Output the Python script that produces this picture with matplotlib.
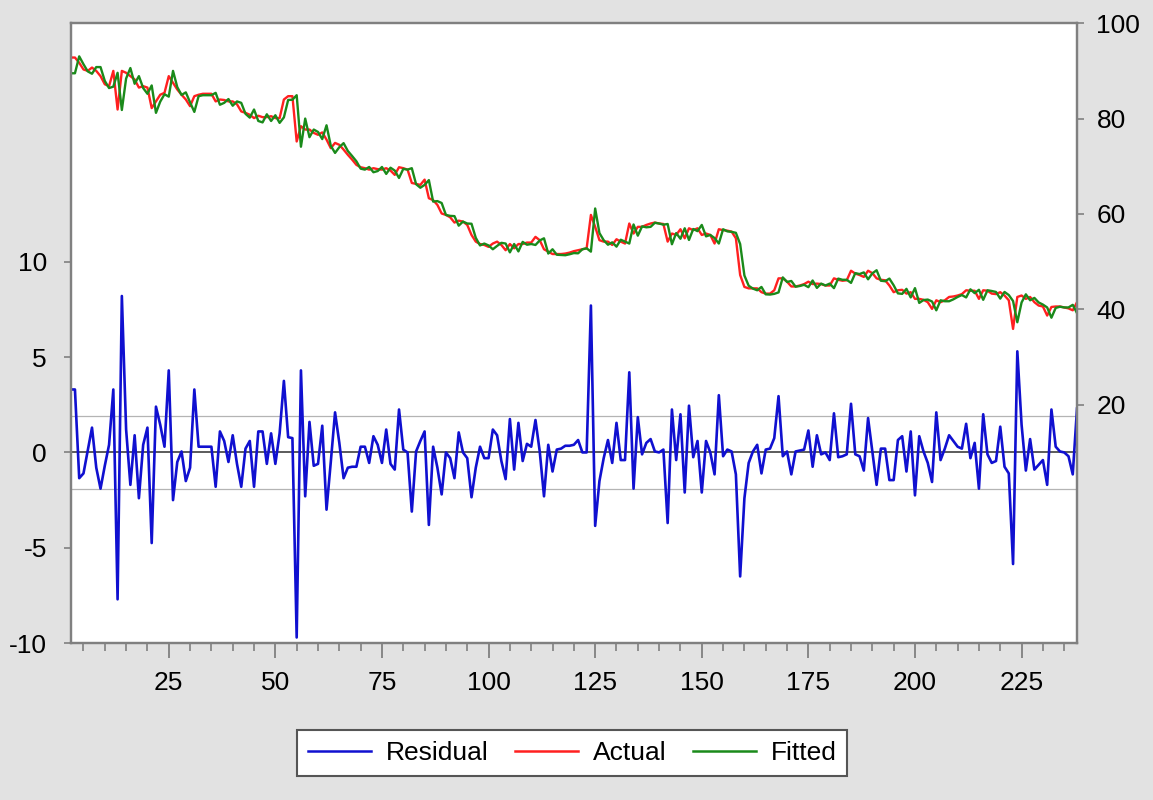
import matplotlib
matplotlib.use("Agg")
import matplotlib.pyplot as plt
import numpy as np
from matplotlib.ticker import MultipleLocator

plt.rcParams.update({
    'font.family': ['Liberation Sans', 'DejaVu Sans'],
    'font.size': 19,
    'axes.unicode_minus': False,
})

# ── Data (observations 2..238) ──────────────────────────────────────
obs = np.arange(2, 239)

residual = [
    3.3, 3.3, -1.35, -1.1, 0.1, 1.3, -0.8, -1.9, -0.7, 0.4,
    3.3, -7.7, 8.2, 1.2, -1.7, 0.9, -2.4, 0.4, 1.3, -4.75,
    2.4, 1.45, 0.3, 4.3, -2.5, -0.5, 0.05, -1.5, -0.8, 3.3,
    0.3, 0.3, 0.3, 0.3, -1.8, 1.1, 0.6, -0.5, 0.9, -0.6,
    -1.8, 0.2, 0.6, -1.8, 1.1, 1.1, -0.6, 1.0, -0.6, 1.0,
    3.75, 0.8, 0.75, -9.7, 4.3, -2.3, 1.6, -0.7, -0.6, 1.4,
    -3.0, -0.5, 2.1, 0.5, -1.35, -0.8, -0.75, -0.75, 0.3, 0.3,
    -0.55, 0.85, 0.4, -0.55, 1.2, -0.6, -0.9, 2.25, 0.15, 0.0,
    -3.1, 0.05, 0.6, 1.1, -3.8, 0.3, -0.8, -2.2, 0.0, -0.3,
    -1.35, 1.05, 0.0, -0.3, -2.35, -0.8, 0.3, -0.3, -0.3, 1.2,
    0.9, -0.45, -1.4, 1.75, -0.9, 1.55, -0.45, 0.45, 0.3, 1.7,
    0.05, -2.3, 0.4, -1.0, 0.15, 0.2, 0.35, 0.35, 0.4, 0.65,
    0.0, 0.0, 7.7, -3.85, -1.5, -0.3, 0.65, -0.55, 1.55, -0.4,
    -0.4, 4.2, -1.9, 1.85, -0.1, 0.5, 0.7, 0.05, 0.0, 0.15,
    -3.7, 2.25, -0.4, 2.0, -2.1, 2.45, -0.25, 0.6, -2.1, 0.6,
    0.0, -1.15, 3.0, -0.2, 0.15, 0.05, -1.15, -6.5, -2.4, -0.55,
    0.05, 0.4, -1.1, 0.15, 0.2, 0.75, 2.95, -0.2, 0.05, -1.15,
    0.05, 0.1, 0.15, 1.15, -0.75, 0.9, -0.1, 0.0, -0.4, 2.05,
    -0.25, -0.2, -0.1, 2.55, -0.1, -0.2, -0.95, 1.8, 0.05, -1.7,
    0.2, 0.2, -1.45, -1.45, 0.65, 0.85, -1.0, 1.1, -2.25, 0.85,
    0.05, -0.55, -1.55, 2.1, -0.4, 0.2, 0.9, 0.6, 0.3, 0.2,
    1.5, -0.3, 0.5, -1.9, 2.0, -0.1, -0.55, -0.45, 1.35, -0.75,
    -1.1, -5.85, 5.3, 1.45, -0.95, 0.7, -0.9, -0.65, -0.4, -1.7,
    2.25, 0.3, 0.05, 0.0, -0.2, -1.15, 2.3,
]

actual = [
    92.8, 92.8, 91.7, 90.3, 90.0, 90.7, 90.0, 88.9, 87.2, 86.8,
    90.0, 81.9, 90.0, 89.6, 88.9, 88.2, 86.5, 86.8, 86.5, 82.2,
    83.6, 85.0, 85.4, 88.9, 87.5, 86.1, 85.0, 84.0, 82.6, 84.7,
    85.0, 85.2, 85.2, 85.2, 83.6, 84.0, 83.9, 83.6, 83.6, 83.0,
    81.5, 81.2, 80.8, 80.1, 80.6, 80.3, 80.3, 80.5, 80.1, 80.1,
    84.0, 84.7, 84.7, 75.2, 78.4, 77.7, 77.7, 77.0, 76.6, 77.1,
    75.6, 73.8, 74.9, 74.5, 73.5, 72.4, 71.4, 70.3, 69.8, 69.6,
    69.3, 69.6, 69.4, 69.3, 69.6, 69.1, 68.2, 69.8, 69.6, 69.3,
    66.5, 66.3, 66.1, 67.2, 63.3, 62.9, 61.9, 60.1, 59.8, 59.3,
    58.2, 58.6, 58.4, 57.7, 55.6, 54.2, 53.7, 53.5, 53.1, 53.8,
    54.2, 53.5, 52.4, 53.7, 52.8, 53.7, 53.7, 54.0, 54.0, 55.2,
    54.5, 52.6, 52.1, 51.6, 51.6, 51.6, 51.7, 51.9, 52.2, 52.4,
    52.6, 52.8, 59.8, 57.3, 54.5, 54.2, 54.2, 53.5, 54.7, 54.2,
    53.8, 58.0, 55.9, 57.3, 57.3, 57.7, 58.0, 58.2, 58.0, 57.9,
    54.2, 55.9, 55.6, 56.8, 54.9, 57.0, 56.6, 57.0, 55.6, 55.9,
    55.6, 53.8, 56.8, 56.6, 56.5, 56.3, 54.9, 47.2, 44.7, 44.4,
    44.4, 44.4, 43.6, 43.3, 43.3, 44.0, 46.5, 46.5, 45.8, 44.8,
    44.8, 45.0, 45.3, 45.8, 45.3, 45.4, 45.3, 45.0, 45.0, 46.5,
    46.2, 46.0, 46.1, 48.1, 47.5, 47.2, 46.8, 48.1, 47.6, 46.5,
    46.2, 46.1, 45.0, 43.6, 44.0, 44.1, 43.3, 43.6, 42.2, 42.2,
    42.0, 41.5, 40.1, 41.9, 41.5, 41.9, 42.6, 42.7, 42.9, 43.2,
    44.0, 43.9, 43.9, 42.2, 44.0, 43.9, 43.3, 43.2, 43.6, 42.9,
    41.9, 35.9, 42.6, 42.9, 42.2, 42.6, 41.5, 40.8, 40.6, 38.7,
    40.5, 40.6, 40.6, 40.4, 40.2, 39.8, 41.5,
]

residual = np.array(residual)
actual = np.array(actual)
fitted = actual - residual  # residual = actual - fitted
se_band = 1.93

# ── Figure ──────────────────────────────────────────────────────────
BG = '#e2e2e2'
FRAME = '#808080'

fig = plt.figure(figsize=(11.53, 8.0), dpi=100, facecolor=BG)
ax = fig.add_axes([0.0613, 0.196, 0.8728, 0.775])
ax2 = ax.twinx()

ax.axhline(0, color='#404040', lw=1.2, zorder=1)
ax.axhline(se_band, color='#b4b4b4', lw=0.9, zorder=1)
ax.axhline(-se_band, color='#b4b4b4', lw=0.9, zorder=1)
l_res, = ax.plot(obs, residual, color='#1010d0', lw=1.9, zorder=2,
                 label='Residual')

l_act, = ax2.plot(obs, actual, color='#ff2020', lw=1.7, label='Actual')
l_fit, = ax2.plot(obs, fitted, color='#1a8a1a', lw=1.7, label='Fitted')

ax.set_xlim(2, 238)
ax.set_ylim(-10, 22.5)
ax2.set_ylim(-30, 100)

ax.set_yticks([-10, -5, 0, 5, 10])
ax2.set_yticks([20, 40, 60, 80, 100])
ax.xaxis.set_major_locator(MultipleLocator(25))
ax.xaxis.set_minor_locator(MultipleLocator(5))

for a in (ax, ax2):
    for s in a.spines.values():
        s.set_color(FRAME)
        s.set_linewidth(1.6)
ax.tick_params(axis='x', which='major', direction='out', length=11,
               width=1.3, color=FRAME, pad=9)
ax.tick_params(axis='x', which='minor', direction='out', length=6,
               width=1.2, color=FRAME)
ax.tick_params(axis='y', direction='out', length=5, width=1.2,
               color=FRAME, pad=12)
ax2.tick_params(axis='y', direction='out', length=5, width=1.2,
                color=FRAME, pad=9)

leg = fig.legend(handles=[l_res, l_act, l_fit], loc='center',
                 bbox_to_anchor=(572 / 1153, 1 - 753 / 800), ncol=3,
                 frameon=True, fancybox=False, edgecolor='#555555',
                 facecolor='white', framealpha=1.0,
                 handlelength=2.4, handletextpad=0.55, columnspacing=1.0,
                 borderpad=0.4, fontsize=19)
leg.get_frame().set_linewidth(1.5)
for ln in leg.get_lines():
    ln.set_linewidth(1.8)

fig.savefig('out.png', dpi=100, facecolor=BG)
